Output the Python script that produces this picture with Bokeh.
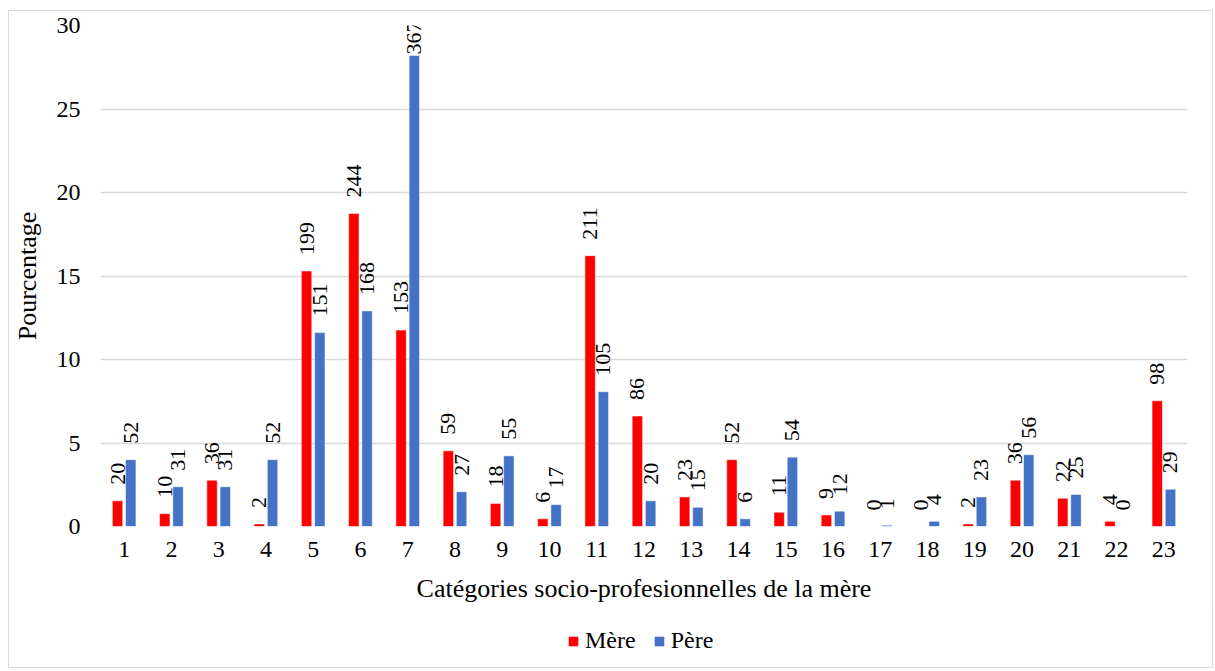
from bokeh.plotting import figure
from bokeh.models import ColumnDataSource, LabelSet, Legend, LegendItem, FixedTicker, Range1d
from bokeh.core.properties import value
from bokeh.transform import dodge
from bokeh.layouts import column
from bokeh.embed import file_html
from bokeh.resources import INLINE
import math

categories = list(range(1, 24))
mere_counts = [20, 10, 36, 2, 199, 244, 153, 59, 18, 6, 211, 86, 23, 52, 11, 9, 0, 0, 2, 36, 22, 4, 98]
pere_counts = [52, 31, 31, 52, 151, 168, 367, 27, 55, 17, 105, 20, 15, 6, 54, 12, 1, 4, 23, 56, 25, 0, 29]
mere_pct = [1.54, 0.77, 2.77, 0.15, 15.30, 18.75, 11.76, 4.53, 1.38, 0.46, 16.22, 6.61, 1.77, 4.00,
            0.85, 0.69, 0.0, 0.0, 0.15, 2.77, 1.69, 0.31, 7.53]
pere_pct = [4.00, 2.38, 2.38, 4.00, 11.61, 12.91, 28.21, 2.08, 4.23, 1.31, 8.07, 1.54, 1.15, 0.46,
            4.15, 0.92, 0.08, 0.31, 1.77, 4.30, 1.92, 0.0, 2.23]
y_ticks = [0, 5, 10, 15, 20, 25, 30]
series_names = ["Mère", "Père"]

FONT = "Liberation Serif"
RED = "#ff0000"
BLUE = "#4472c4"

def offs(vals):
    return [1 if v > 27 else 16 for v in vals]

src = ColumnDataSource(dict(
    cat=categories,
    mere=mere_pct, pere=pere_pct,
    mere_lbl=[str(v) for v in mere_counts],
    pere_lbl=[str(v) for v in pere_counts],
    mere_off=offs(mere_pct), pere_off=offs(pere_pct),
))

p = figure(frame_width=1090, frame_height=501, output_backend="svg", toolbar_location=None,
           x_range=Range1d(0.5, 23.5), y_range=Range1d(0, 30),
           min_border_left=90, min_border_right=25, min_border_top=14, min_border_bottom=0)
p.outline_line_color = None
p.background_fill_color = "white"
p.border_fill_color = "white"

OFF = 0.14
W = 0.22
r1 = p.vbar(x=dodge("cat", -OFF, range=p.x_range), top="mere", width=W, source=src,
            fill_color=RED, line_color="white", line_width=0.5)
r2 = p.vbar(x=dodge("cat", OFF, range=p.x_range), top="pere", width=W, source=src,
            fill_color=BLUE, line_color="white", line_width=0.5)

for xcol, lbl, off in [("mere", "mere_lbl", "mere_off"), ("pere", "pere_lbl", "pere_off")]:
    ls = LabelSet(x=dodge("cat", -OFF if xcol == "mere" else OFF, range=p.x_range), y=xcol,
                  text=lbl, source=src, angle=math.pi / 2, text_align="left",
                  text_baseline="middle", y_offset=off, text_font=value(FONT),
                  text_font_size=value("22px"), text_color="black")
    p.add_layout(ls)

p.xaxis.ticker = FixedTicker(ticks=categories)
p.yaxis.ticker = FixedTicker(ticks=y_ticks)
p.xgrid.grid_line_color = None
p.ygrid.grid_line_color = "#d9d9d9"
p.ygrid.grid_line_width = 1.5
for ax in (p.xaxis, p.yaxis):
    ax.axis_line_color = None
    ax.major_tick_line_color = None
    ax.minor_tick_line_color = None
    ax.major_label_text_font = FONT
    ax.major_label_text_font_size = "24px"
    ax.major_label_text_color = "black"
    ax.axis_label_text_font = FONT
    ax.axis_label_text_font_size = "26px"
    ax.axis_label_text_font_style = "normal"
    ax.axis_label_text_color = "black"
p.xaxis.major_label_standoff = 9
p.yaxis.major_label_standoff = 14
p.xaxis.axis_label = "Catégories socio-profesionnelles de la mère"
p.xaxis.axis_label_standoff = 14
p.yaxis.axis_label = "Pourcentage"
p.yaxis.axis_label_standoff = 12

# legend strip below the chart (dummy glyphs lie outside the visible range)
q = figure(width=1205, height=62, output_backend="svg", toolbar_location=None,
           x_range=Range1d(0, 1), y_range=Range1d(0, 1),
           min_border=0, x_axis_type=None, y_axis_type=None)
q.outline_line_color = None
q.xgrid.grid_line_color = None
q.ygrid.grid_line_color = None
dummy = ColumnDataSource(dict(x=[-10], top=[-10]))
g1 = q.vbar(x="x", top="top", width=0.1, source=dummy, fill_color=RED, line_color=None)
g2 = q.vbar(x="x", top="top", width=0.1, source=dummy, fill_color=BLUE, line_color=None)
legend = Legend(items=[LegendItem(label=series_names[0], renderers=[g1], index=0),
                       LegendItem(label=series_names[1], renderers=[g2], index=0)],
                orientation="horizontal", location=(467, 13),
                label_text_font=FONT, label_text_font_size="24px", label_text_color="black",
                label_height=24, glyph_width=12, glyph_height=12, spacing=17, label_standoff=6,
                border_line_color=None, background_fill_alpha=0, margin=0, padding=2)
q.add_layout(legend, "center")

layout = column(p, q, spacing=0)
layout.styles = {"border": "1px solid #d9d9d9", "margin-left": "8px", "margin-top": "10px",
                 "width": "1205px"}

open("out.html", "w").write(file_html(layout, INLINE))
